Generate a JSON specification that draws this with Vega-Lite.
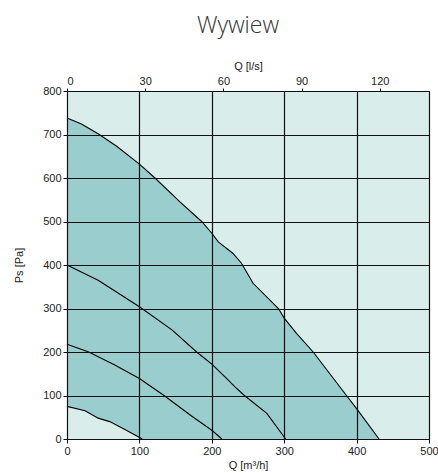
{
  "$schema": "https://vega.github.io/schema/vega-lite/v6.json",
  "width": 362,
  "height": 348,
  "autosize": {"type": "none"},
  "padding": {"left": 67, "top": 91, "right": 9, "bottom": 34},
  "background": "white",
  "title": {"text": "Wywiew", "font": "Open Sans", "fontSize": 23, "fontWeight": 300, "color": "#333333", "anchor": "middle", "offset": 22, "dx": -10},
  "datasets": {
    "curves": [
      {"c": "max", "q": 0, "p": 738}, {"c": "max", "q": 20, "p": 724}, {"c": "max", "q": 44.6, "p": 700}, {"c": "max", "q": 68.6, "p": 673}, {"c": "max", "q": 100, "p": 632}, {"c": "max", "q": 121.5, "p": 600}, {"c": "max", "q": 156, "p": 545}, {"c": "max", "q": 186, "p": 500}, {"c": "max", "q": 200, "p": 473}, {"c": "max", "q": 209, "p": 453}, {"c": "max", "q": 229, "p": 427}, {"c": "max", "q": 241, "p": 404}, {"c": "max", "q": 257, "p": 358}, {"c": "max", "q": 292, "p": 300}, {"c": "max", "q": 300, "p": 278}, {"c": "max", "q": 317, "p": 243}, {"c": "max", "q": 340, "p": 200}, {"c": "max", "q": 363, "p": 150}, {"c": "max", "q": 386, "p": 100}, {"c": "max", "q": 400, "p": 70}, {"c": "max", "q": 431, "p": 0},
      {"c": "s2", "q": 0, "p": 400}, {"c": "s2", "q": 43, "p": 365}, {"c": "s2", "q": 100, "p": 304}, {"c": "s2", "q": 145, "p": 251}, {"c": "s2", "q": 179, "p": 200}, {"c": "s2", "q": 200, "p": 172}, {"c": "s2", "q": 220, "p": 140}, {"c": "s2", "q": 232, "p": 120}, {"c": "s2", "q": 245, "p": 100}, {"c": "s2", "q": 276, "p": 59}, {"c": "s2", "q": 302, "p": 0},
      {"c": "s3", "q": 0, "p": 218}, {"c": "s3", "q": 30, "p": 200}, {"c": "s3", "q": 66, "p": 170}, {"c": "s3", "q": 100, "p": 139}, {"c": "s3", "q": 134, "p": 100}, {"c": "s3", "q": 172, "p": 53}, {"c": "s3", "q": 200, "p": 20}, {"c": "s3", "q": 214, "p": 0},
      {"c": "min", "q": 0, "p": 75}, {"c": "min", "q": 25, "p": 65}, {"c": "min", "q": 43, "p": 48}, {"c": "min", "q": 59, "p": 40}, {"c": "min", "q": 80, "p": 22}, {"c": "min", "q": 104, "p": 0}
    ]
  },
  "config": {
    "view": {"fill": "#d9edeb", "stroke": "#111111", "strokeWidth": 1},
    "axis": {
      "labelFont": "Liberation Sans", "labelFontSize": 11, "labelColor": "#222222",
      "titleFont": "Liberation Sans", "titleFontSize": 11, "titleFontWeight": "normal", "titleColor": "#222222",
      "domainColor": "#111111", "tickColor": "#111111", "tickSize": 4,
      "gridColor": "#111111", "gridOpacity": 1, "gridWidth": 1.2, "zindex": 1
    }
  },
  "resolve": {"axis": {"x": "independent"}},
  "layer": [
    {
      "data": {"name": "curves"},
      "transform": [{"filter": "datum.c == 'max'"}],
      "mark": {"type": "area", "color": "#9acdce", "opacity": 1},
      "encoding": {
        "x": {"field": "q", "type": "quantitative", "scale": {"domain": [0, 500], "nice": false, "zero": false},
          "axis": {"orient": "bottom", "zindex": 2, "values": [0, 100, 200, 300, 400, 500], "grid": true, "title": "Q [m³/h]", "titlePadding": 3, "labelPadding": 2, "labelFlush": false}},
        "y": {"field": "p", "type": "quantitative", "scale": {"domain": [0, 800], "nice": false},
          "axis": {"zindex": 2, "values": [0, 100, 200, 300, 400, 500, 600, 700, 800], "grid": true, "title": "Ps [Pa]", "titlePadding": 18, "labelPadding": 2}}
      }
    },
    {
      "data": {"name": "curves"},
      "transform": [{"filter": "datum.c == 'min'"}],
      "mark": {"type": "area", "color": "#d9edeb", "opacity": 1},
      "encoding": {
        "x": {"field": "q", "type": "quantitative",
          "axis": {"orient": "top", "zindex": 2, "values": [0, 108, 216, 324, 432], "labelExpr": "format(datum.value / 3.6, 'd')", "grid": false, "title": "Q [l/s]", "titlePadding": 4, "labelPadding": 2, "tickSize": 3}},
        "y": {"field": "p", "type": "quantitative"}
      }
    },
    {
      "data": {"name": "curves"},
      "mark": {"type": "line", "color": "#000000", "strokeWidth": 1.1},
      "encoding": {
        "x": {"field": "q", "type": "quantitative", "axis": null},
        "y": {"field": "p", "type": "quantitative"},
        "detail": {"field": "c"}
      }
    }
  ]
}
